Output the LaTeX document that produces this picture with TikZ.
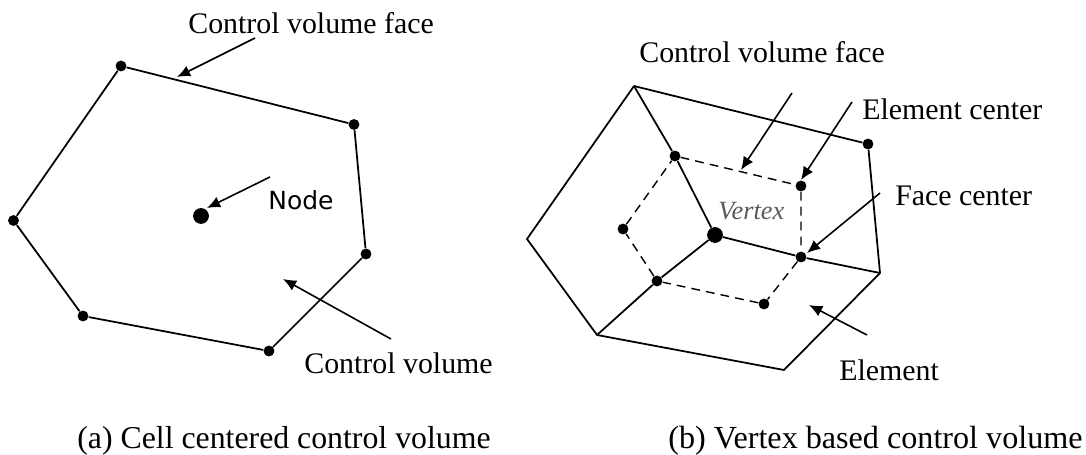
\documentclass[tikz,border=0pt]{standalone}
\usepackage{fontspec}
\setmainfont{Liberation Serif}
\newfontfamily\nodefont{DejaVu Sans}
\usetikzlibrary{arrows.meta}
\tikzset{
    edge/.style={line width=1pt, black},
    pointer/.style={line width=0.9pt, -{Latex[length=7.5pt,width=6.5pt]}},
    dash edge/.style={line width=0.8pt, dash pattern=on 5pt off 3.5pt},
    smalldot/.style={circle, fill=black, inner sep=0pt, minimum size=6.2pt},
    bigdot/.style={circle, fill=black, inner sep=0pt, minimum size=9pt},
    label text/.style={anchor=base west, inner sep=0pt, font=\fontsize{17}{20}\selectfont}
}
\begin{document}
\begin{tikzpicture}[x=0.02cm, y=-0.02cm]
    \useasboundingbox (0,0) rectangle (1086,455);
    % left cell
    \foreach \name/\px/\py in {a/121/66, b/354/124.5, c/366/254, d/269/351, e/83/316, f/13.5/220.5} {
        \node[smalldot] (\name) at (\px,\py) {};
    }
    \node[bigdot] (nodept) at (201,216) {};
    \draw[edge] (a) -- (b) -- (c) -- (d) -- (e) -- (f) -- (a);
    \coordinate (facefrom) at (255,38);
    \coordinate (faceto) at (177,77);
    \coordinate (nodefrom) at (270,177);
    \coordinate (nodeto) at (207,208);
    \coordinate (volfrom) at (391,339);
    \coordinate (volto) at (283,279);
    \draw[pointer] (facefrom) -- (faceto);
    \draw[pointer] (nodefrom) -- (nodeto);
    \draw[pointer] (volfrom) -- (volto);
    \node[label text] (facetext) at (188,34) {Control volume face};
    \node[label text, font=\nodefont\fontsize{14.2}{17}\selectfont] (nodetext) at (268,210) {Node};
    \node[label text] (voltext) at (304,374) {Control volume};
    \node[label text, font=\fontsize{18.1}{22}\selectfont] (captiona) at (77,449) {(a) Cell centered control volume};
    % right cell
    \foreach \name/\px/\py in {tl/634/86, rl/880/273, bo/784/370, bl/597/335, le/527/239} {
        \coordinate (\name) at (\px,\py);
    }
    \foreach \name/\px/\py in {tr/868/144, fa/675/156, ec/801/186, fb/801/257, ed/764/304, fc/657/281, eb/623/229} {
        \node[smalldot] (\name) at (\px,\py) {};
    }
    \node[bigdot] (vertex) at (715,235) {};
    \draw[edge] (tl) -- (tr) -- (rl) -- (bo) -- (bl) -- (le) -- (tl);
    \draw[edge] (tl) -- (fa) -- (vertex) -- (fb) -- (rl);
    \draw[edge] (vertex) -- (fc) -- (bl);
    \draw[dash edge] (fa) -- (ec) -- (fb) -- (ed) -- (fc) -- (eb) -- (fa);
    \coordinate (cvfrom) at (792,93);
    \coordinate (cvto) at (741,170);
    \coordinate (ecfrom) at (852,102);
    \coordinate (ecto) at (801,180);
    \coordinate (fcfrom) at (880,193);
    \coordinate (fcto) at (807,253);
    \coordinate (elfrom) at (867,335);
    \coordinate (elto) at (809,305);
    \draw[pointer] (cvfrom) -- (cvto);
    \draw[pointer] (ecfrom) -- (ecto);
    \draw[pointer] (fcfrom) -- (fcto);
    \draw[pointer] (elfrom) -- (elto);
    \node[label text] (cvtext) at (639,63) {Control volume face};
    \node[label text] (ectext) at (862,120) {Element center};
    \node[label text] (fctext) at (895,206) {Face center};
    \node[label text] (eltext) at (839,381) {Element};
    \node[label text, font=\itshape\fontsize{15}{18}\selectfont, black!65] (vertextext) at (718,220) {Vertex};
    \node[label text, font=\fontsize{18.3}{22}\selectfont] (captionb) at (668,449) {(b) Vertex based control volume};
\end{tikzpicture}
\end{document}
